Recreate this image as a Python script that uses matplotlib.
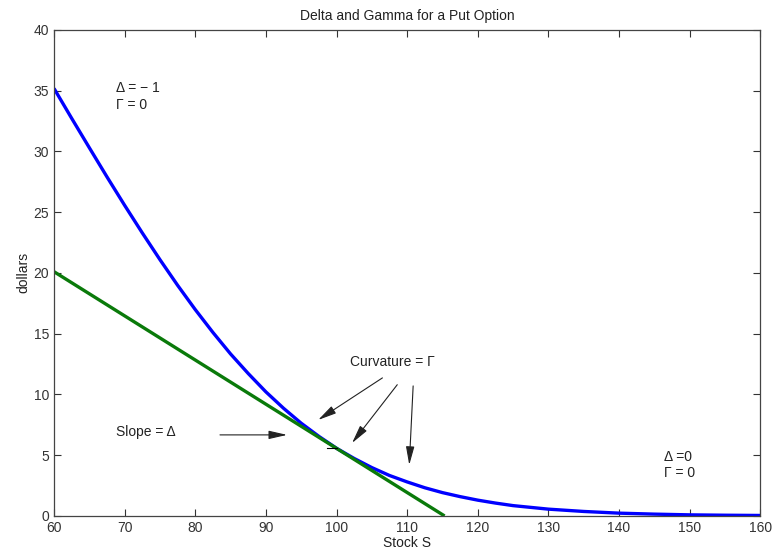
import matplotlib
matplotlib.use("Agg")
import matplotlib.pyplot as plt

# put value
stock = [60, 62.5, 65, 67.5, 70, 72.5, 75, 77.5, 80, 82.5, 85, 87.5, 90, 92.5,
         95, 97.5, 100, 102.5, 105, 107.5, 110, 112.5, 115, 117.5, 120, 122.5,
         125, 130, 135, 140, 145, 150, 155, 160]
put_value = [35.18, 32.72, 30.30, 27.90, 25.56, 23.29, 21.09, 18.98, 16.98, 15.10,
             13.33, 11.72, 10.21, 8.86, 7.63, 6.55, 5.57, 4.73, 3.98, 3.33, 2.80,
             2.32, 1.92, 1.59, 1.30, 1.06, 0.85, 0.56, 0.37, 0.23, 0.15, 0.09,
             0.06, 0.04]

# tangent line at S = 100
tangent_x = [60, 115.3]
tangent_y = [20.1, 0]

x_ticks = list(range(60, 161, 10))
y_ticks = list(range(0, 41, 5))


def main():
    plt.rcParams['font.family'] = ['Liberation Sans', 'DejaVu Sans']
    fig = plt.figure(figsize=(7.75, 5.53), dpi=100)
    ax = fig.add_axes([0.0697, 0.067, 0.9113, 0.879])

    ax.plot(stock, put_value, color='#0000ff', lw=2.4, solid_capstyle='butt')
    ax.plot(tangent_x, tangent_y, color='#0a7a0a', lw=2.4, solid_capstyle='butt')
    ax.plot([98.6, 100], [5.6, 5.6], color='black', lw=0.8)

    ax.set_xlim(60, 160)
    ax.set_ylim(0, 40)
    ax.set_xticks(x_ticks)
    ax.set_yticks(y_ticks)
    ax.tick_params(direction='in', top=True, right=True, length=5,
                   labelsize=10, colors='#333333', labelcolor='#333333')
    for sp in ax.spines.values():
        sp.set_color('#444444')
        sp.set_linewidth(0.9)

    ax.set_title('Delta and Gamma for a Put Option', fontsize=10, color='#222222', pad=7)
    ax.set_xlabel('Stock S', fontsize=10, color='#222222', labelpad=1)
    ax.set_ylabel('dollars', fontsize=10, color='#222222', labelpad=2)

    txt = dict(fontsize=10, color='#222222', va='center', ha='left')
    ax.text(68.8, 35.2, 'Δ = − 1', **txt)
    ax.text(68.8, 33.8, 'Γ = 0', **txt)
    ax.text(146.4, 4.86, 'Δ =0', **txt)
    ax.text(146.4, 3.5, 'Γ = 0', **txt)
    ax.text(68.8, 6.9, 'Slope = Δ', **txt)
    ax.text(101.9, 12.7, 'Curvature = Γ', **txt)

    arrow = dict(arrowstyle='-|>,head_length=0.7,head_width=0.16', color='#222222',
                 lw=0.8, mutation_scale=16, shrinkA=0, shrinkB=0)
    ax.annotate('', xy=(93.0, 6.67), xytext=(83.5, 6.67), arrowprops=arrow)
    ax.annotate('', xy=(97.4, 7.9), xytext=(106.5, 11.36), arrowprops=arrow)
    ax.annotate('', xy=(102.2, 6.0), xytext=(108.6, 10.8), arrowprops=arrow)
    ax.annotate('', xy=(110.3, 4.2), xytext=(110.85, 10.7), arrowprops=arrow)

    fig.savefig('out.png', dpi=100)


if __name__ == "__main__":
    main()
